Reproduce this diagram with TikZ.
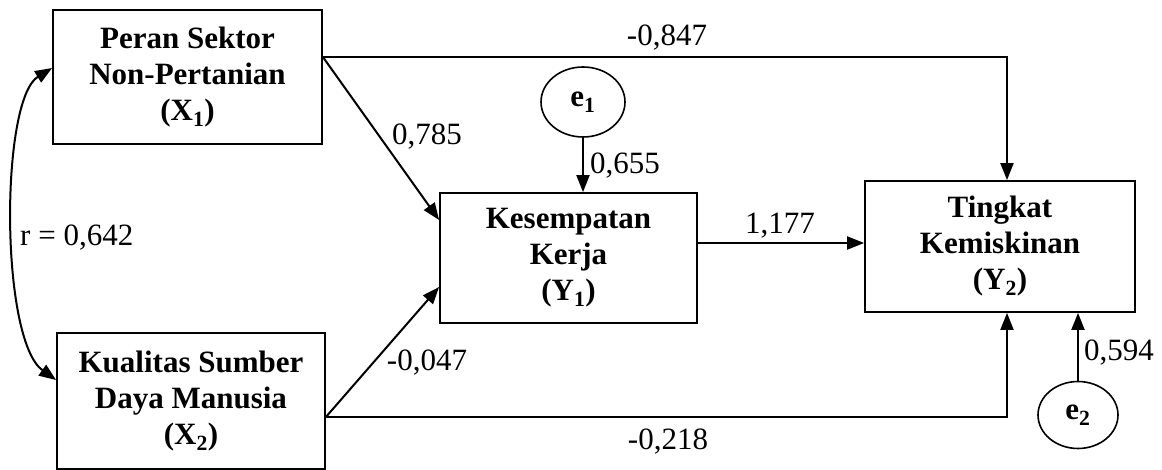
\documentclass[tikz,border=0pt]{standalone}
\usepackage{fontspec}
\setmainfont{Liberation Serif}
\usetikzlibrary{arrows.meta,shapes.geometric}
\begin{document}
\begin{tikzpicture}[x=1pt,y=-1pt,
  box/.style={draw,line width=1.8pt,rectangle,inner sep=0pt,align=center,
    font=\fontsize{31}{36}\selectfont\bfseries},
  err/.style={draw,line width=1.6pt,ellipse,inner sep=0pt,
    font=\fontsize{31}{36}\selectfont\bfseries},
  lbl/.style={inner sep=0pt,font=\fontsize{31}{36}\selectfont},
  arr/.style={line width=2pt,-{Triangle[length=17pt,width=13pt]}},
  plain/.style={line width=1.8pt}]
\useasboundingbox[fill=white] (0,0) rectangle (1162,470);
% boxes
\node[box,minimum width=269pt,minimum height=134pt] (X1) at (187.5,77)
  {Peran Sektor\\Non-Pertanian\\(X\textsubscript{1})};
\node[box,minimum width=268pt,minimum height=136pt] (X2) at (191,401)
  {Kualitas Sumber\\Daya Manusia\\(X\textsubscript{2})};
\node[box,minimum width=257pt,minimum height=130pt] (Y1) at (568.5,258)
  {Kesempatan\\Kerja\\(Y\textsubscript{1})};
\node[box,minimum width=270pt,minimum height=131pt] (Y2) at (1000,246.5)
  {Tingkat\\Kemiskinan\\(Y\textsubscript{2})};
\node[err,minimum width=84pt,minimum height=70pt] (e1) at (583,102) {e\textsubscript{1}};
\node[err,minimum width=80pt,minimum height=67pt] (e2) at (1078,415) {e\textsubscript{2}};
% connectors
\draw[arr] ([yshift=20pt]X1.east) -| ([xshift=7pt]Y2.north);
\draw[arr] ([yshift=20pt]X1.east) -- ([yshift=38pt]Y1.west);
\draw[arr] ([yshift=-16pt]X2.east) -- ([yshift=-29pt]Y1.west);
\draw[arr] ([yshift=-16pt]X2.east) -| ([xshift=7pt]Y2.south);
\draw[arr] ([yshift=15pt]Y1.east) -- ([yshift=15pt]Y1.east -| Y2.west);
\draw[arr] (e1.south) -- (e1.south |- Y1.north);
\draw[arr] (e2.north) -- (e2.north |- Y2.south);
\coordinate (c1) at ([yshift=9pt]X1.west);
\coordinate (c2) at ([yshift=21pt]X2.west);
\draw[line width=2pt,{Triangle[length=17pt,width=13pt]}-{Triangle[length=17pt,width=13pt]}]
  (c1) .. controls (0,100) and (0,340) .. (c2);
% labels
\node[lbl] (l847) at (667,38) {-0,847};
\node[lbl] (l785) at (427,137) {0,785};
\node[lbl,anchor=west] (l655) at (590,166) {0,655};
\node[lbl] (l177) at (780,226) {1,177};
\node[lbl] (l047) at (427,363) {-0,047};
\node[lbl] (l218) at (668,442) {-0,218};
\node[lbl,anchor=west] (l594) at (1084,353) {0,594};
\node[lbl,anchor=west] (lr) at (20,238) {r = 0,642};
\end{tikzpicture}
\end{document}
